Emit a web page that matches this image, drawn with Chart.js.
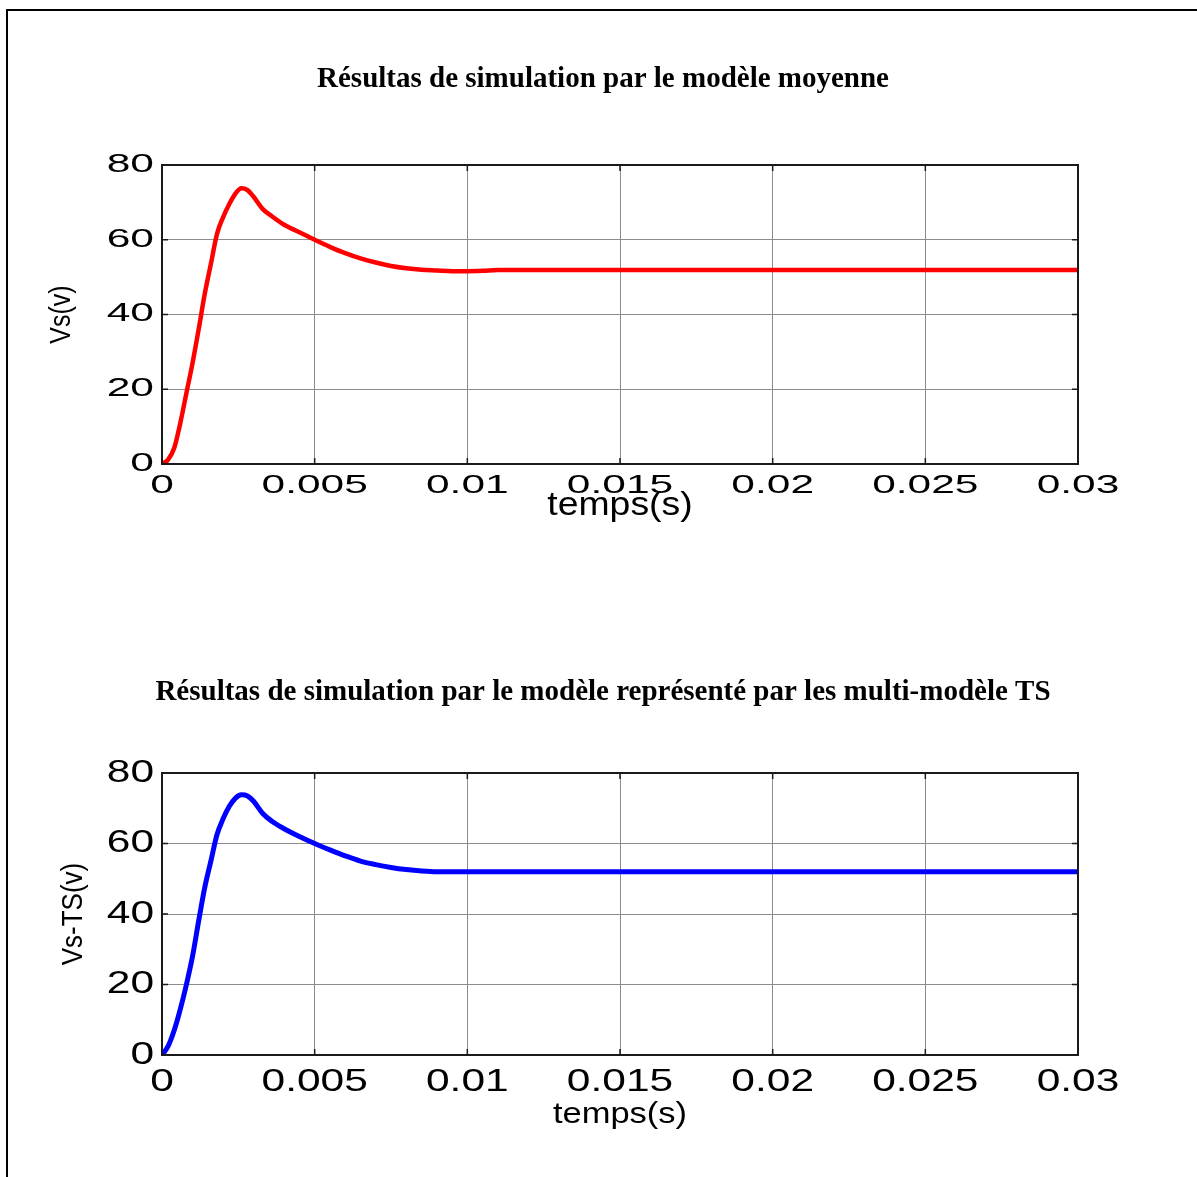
<!DOCTYPE html>
<html>
<head>
<meta charset="utf-8">
<script src="https://cdn.jsdelivr.net/npm/chart.js@4/dist/chart.umd.min.js"></script>
<style>
html, body { margin: 0; padding: 0; background: #fff; overflow: hidden; }
body { width: 1197px; height: 1177px; position: relative; }
#frame { position: absolute; left: 6px; top: 9px; width: 1400px; height: 1400px; border-left: 2px solid #000; border-top: 2px solid #000; }
canvas { position: absolute; left: 0; }
#c1 { top: 0; }
#c2 { top: 560px; }
</style>
</head>
<body>
<div id="frame"></div>
<canvas id="c1" width="1197" height="560"></canvas>
<canvas id="c2" width="1197" height="617"></canvas>
<script>
// values (time in s, voltage in V)
var timeTop = [0, 0.0002, 0.0004, 0.0006, 0.0008, 0.001, 0.0012, 0.0014, 0.0016, 0.0018, 0.002, 0.0022, 0.0024, 0.0026, 0.0028, 0.003, 0.0033, 0.0036, 0.004, 0.0045, 0.005, 0.0055, 0.006, 0.0065, 0.007, 0.0075, 0.008, 0.0085, 0.009, 0.0095, 0.01, 0.0105, 0.011, 0.02, 0.03];
var vsTop = [0, 1.2, 4.3, 11, 19, 27, 36, 45.5, 53.5, 61.5, 66, 69.5, 72.3, 73.8, 73.3, 71.5, 68.2, 66.3, 64, 62, 60, 58.1, 56.4, 55, 53.9, 53, 52.4, 52, 51.8, 51.6, 51.6, 51.7, 51.9, 51.9, 51.9];

var timeBottom = [0, 0.0002, 0.0004, 0.0006, 0.0008, 0.001, 0.0012, 0.0014, 0.0016, 0.0018, 0.002, 0.0022, 0.0024, 0.0026, 0.0028, 0.003, 0.0033, 0.0036, 0.004, 0.0045, 0.005, 0.0055, 0.006, 0.0065, 0.007, 0.0075, 0.008, 0.0085, 0.009, 0.02, 0.03];
var vsBottom = [0, 2.5, 7, 13, 20, 28, 38, 47.5, 55, 62.5, 67, 70.5, 72.8, 73.8, 73.5, 72, 68.5, 66.3, 64.2, 62, 60, 58.2, 56.5, 55, 54, 53.2, 52.6, 52.2, 52, 52, 52];

var xTickLabels = ["0", "0.005", "0.01", "0.015", "0.02", "0.025", "0.03"];
var yTickLabels = ["0", "20", "40", "60", "80"];

// the exported figure has its sans text stretched sideways; the "sxNNN" tag in the
// font family list carries the stretch factor (unknown family, ignored by the browser)
var baseFillText = CanvasRenderingContext2D.prototype.fillText;
CanvasRenderingContext2D.prototype.fillText = function (text, x, y) {
    var m = /sx(\d+)/.exec(this.font);
    if (!m) return baseFillText.apply(this, arguments);
    var sx = m[1] / 100;
    var t = this.getTransform();
    var p = t.transformPoint(new DOMPoint(x, y));
    this.save();
    this.setTransform(new DOMMatrix().translate(p.x, p.y).scale(sx, 1).translate(-p.x, -p.y).multiply(t));
    baseFillText.call(this, text, x, y);
    this.restore();
};

var sans = "'Liberation Sans', Arial, ";

var boxPlugin = {
    id: "box",
    afterDraw: function (chart) {
        var a = chart.chartArea, ctx = chart.ctx, len = 6;
        var xs = chart.scales.x, ys = chart.scales.y;
        ctx.save();
        ctx.strokeStyle = "#1a1a1a";
        ctx.lineWidth = 1.5;
        ctx.beginPath();
        xs.ticks.forEach(function (t) {
            var px = xs.getPixelForValue(t.value);
            ctx.moveTo(px, a.bottom); ctx.lineTo(px, a.bottom - len);
            ctx.moveTo(px, a.top); ctx.lineTo(px, a.top + len);
        });
        ys.ticks.forEach(function (t) {
            var py = ys.getPixelForValue(t.value);
            ctx.moveTo(a.left, py); ctx.lineTo(a.left + len, py);
            ctx.moveTo(a.right, py); ctx.lineTo(a.right - len, py);
        });
        ctx.stroke();
        ctx.lineWidth = 2;
        ctx.strokeRect(a.left, a.top, a.right - a.left, a.bottom - a.top);
        ctx.restore();
    }
};

function buildChart(id, s) {
    var points = s.time.map(function (t, i) { return { x: t, y: s.values[i] }; });
    return new Chart(document.getElementById(id), {
        type: "line",
        data: {
            datasets: [{
                data: points,
                xAxisID: "x",
                yAxisID: "y",
                borderColor: s.color,
                borderWidth: s.lineWidth,
                pointRadius: 0,
                cubicInterpolationMode: "monotone",
                fill: false
            }]
        },
        options: {
            responsive: false,
            animation: false,
            devicePixelRatio: 1,
            layout: { padding: { left: 9, right: 0, top: 0, bottom: s.padBottom } },
            plugins: {
                legend: { display: false },
                tooltip: { enabled: false },
                title: {
                    display: true,
                    text: s.title,
                    color: "#000",
                    font: { family: "'Liberation Serif', 'Times New Roman', serif", weight: "bold", size: 29, lineHeight: 1 },
                    padding: { top: s.titleTop, bottom: s.titleBottom }
                }
            },
            scales: {
                x: {
                    type: "linear",
                    min: 0,
                    max: 0.03,
                    afterFit: function (sc) { sc.height = s.xHeight; },
                    border: { display: false },
                    grid: { color: "#8c8c8c", lineWidth: 1, drawTicks: false },
                    ticks: {
                        stepSize: 0.005,
                        autoSkip: false,
                        maxRotation: 0,
                        padding: s.xTickPad,
                        color: "#000",
                        font: { family: sans + s.tickStretch, size: s.tickSize, lineHeight: 1 },
                        callback: function (v, i) { return xTickLabels[i]; }
                    },
                    title: {
                        display: true,
                        text: "temps(s)",
                        color: "#000",
                        font: { family: sans + s.xTitleStretch, size: s.xTitleSize, lineHeight: 1 },
                        padding: { top: 0, bottom: s.xTitlePad }
                    }
                },
                y: {
                    min: 0,
                    max: 80,
                    afterFit: function (sc) { sc.width = 153; },
                    border: { display: false },
                    grid: { color: "#8c8c8c", lineWidth: 1, drawTicks: false },
                    ticks: {
                        stepSize: 20,
                        padding: 8,
                        color: "#000",
                        font: { family: sans + s.tickStretch, size: s.tickSize, lineHeight: 1 },
                        callback: function (v, i) { return yTickLabels[i]; }
                    },
                    title: {
                        display: true,
                        text: s.yTitle,
                        color: "#000",
                        font: { family: sans + "sx115", size: s.yTitleSize, lineHeight: 1 },
                        padding: { top: s.yTitlePad, bottom: 0 }
                    }
                },
                // empty right-hand box: keeps the plot's right edge where the figure has it
                // while the full-width title stays centred like the original
                yRight: {
                    position: "right",
                    afterFit: function (sc) { sc.width = 119; },
                    border: { display: false },
                    grid: { display: false },
                    ticks: { display: false }
                }
            }
        },
        plugins: [boxPlugin]
    });
}

buildChart("c1", {
    time: timeTop, values: vsTop, color: "#ff0000", lineWidth: 4.5,
    title: "Résultas de simulation par le modèle moyenne",
    titleTop: 65.5, titleBottom: 70.5, padBottom: 36, xHeight: 60,
    tickSize: 25, tickStretch: "sx170", xTickPad: 10,
    xTitleSize: 34, xTitleStretch: "sx110", xTitlePad: 1,
    yTitle: "Vs(v)", yTitleSize: 25, yTitlePad: 40.5
});

buildChart("c2", {
    time: timeBottom, values: vsBottom, color: "#0000ff", lineWidth: 5,
    title: "Résultas de simulation par le modèle représenté par les multi-modèle TS",
    titleTop: 118.5, titleBottom: 65.5, padBottom: 47, xHeight: 75,
    tickSize: 31, tickStretch: "sx137", xTickPad: 12,
    xTitleSize: 30, xTitleStretch: "sx115", xTitlePad: 0,
    yTitle: "Vs-TS(v)", yTitleSize: 26, yTitlePad: 52
});
</script>
</body>
</html>
